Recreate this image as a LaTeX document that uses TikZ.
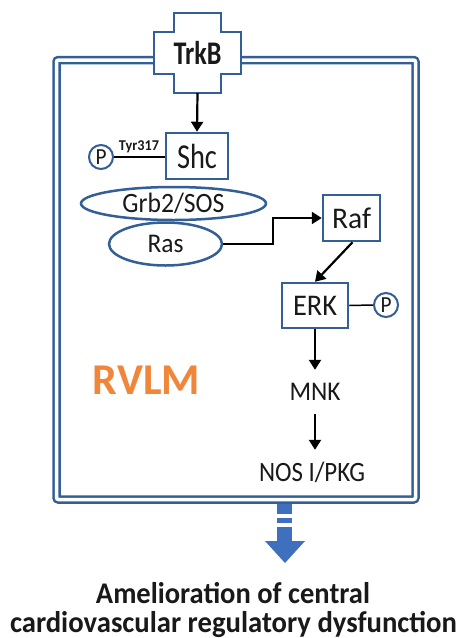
\documentclass[tikz,border=0pt]{standalone}
\usepackage{fontspec}
\usepackage{graphicx}
\setmainfont{Carlito}
\usetikzlibrary{arrows.meta,shapes.geometric}
\definecolor{frameblue}{RGB}{52,94,150}
\definecolor{arrowblue}{RGB}{62,112,190}
\definecolor{rvlmorange}{RGB}{240,134,58}
\definecolor{txt}{RGB}{25,25,25}
\newcommand{\fitw}[3]{\resizebox{#1}{\height}{\fontsize{#2}{#2}\selectfont #3}}
\begin{document}
\begin{tikzpicture}[x=1pt,y=-1pt,
  box/.style={draw=frameblue, line width=2.5pt, fill=white, inner sep=0pt, text=txt},
  oval/.style={ellipse, draw=frameblue, line width=2.5pt, fill=white, inner sep=0pt, text=txt},
  arr/.style={-{Triangle[width=12pt,length=10pt]}, line width=2.2pt, black},
  pcirc/.style={circle, draw=frameblue, line width=2pt, fill=white, inner sep=0pt, minimum size=24pt, text=txt},
  plain/.style={inner sep=0pt, text=txt, minimum height=44pt}]
\useasboundingbox (0,0) rectangle (463,638);
\fill[white] (0,0) rectangle (463,638);
% frame
\draw[frameblue, line width=2.5pt, double=white, double distance=3.5pt, rounded corners=2pt] (56.5,60) rectangle (415.5,499.5);
% TrkB cross
\draw[frameblue, line width=2.5pt, fill=white] (174,13) -- (221,13) -- (221,32) -- (241,32) -- (241,74) -- (221,74) -- (221,93) -- (174,93) -- (174,74) -- (154,74) -- (154,32) -- (174,32) -- cycle;
\node[text=txt, inner sep=0pt] (trkb) at (197.5,53) {\fitw{48pt}{33}{\bfseries TrkB}};
\coordinate (trkbbot) at (197.5,93);
% Shc
\node[box, minimum width=62pt, minimum height=46pt] (shc) at (197,156) {\fitw{40pt}{35}{Shc}};
\draw[arr] (trkbbot) -- (shc.north);
\node[pcirc] (p1) at (101,157) {\fitw{11pt}{23}{P}};
\draw[line width=1.5pt, black] (p1.east) -- (p1.east -| shc.west);
\node[text=txt, inner sep=0pt] (tyr) at (139,147) {\fitw{40pt}{15}{\bfseries Tyr317}};
% Grb2/SOS and Ras
\node[oval, minimum width=185pt, minimum height=33pt] (grb) at (173.5,203.5) {\fitw{102pt}{28}{Grb2/SOS}};
\node[oval, minimum width=113pt, minimum height=43pt] (ras) at (165.5,244) {\fitw{36pt}{27}{Ras}};
% Raf, ERK
\node[box, minimum width=57pt, minimum height=46pt] (raf) at (351.5,218) {\fitw{39pt}{30}{Raf}};
\node[box, minimum width=66pt, minimum height=45pt] (erk) at (315,305.5) {\fitw{44pt}{30}{ERK}};
\draw[arr] (ras.east) -- ++(50,0) |- (raf.west);
\draw[arr] ([xshift=1pt]raf.south) -- (erk.north);
\node[pcirc] (p2) at (386,305) {\fitw{11pt}{23}{P}};
\draw[line width=1.5pt, black] (erk.east) -- (p2.west);
% MNK, NOS
\node[plain] (mnk) at (315,392) {\fitw{51pt}{27}{MNK}};
\node[plain] (nos) at (312,472) {\fitw{106pt}{28}{NOS I/PKG}};
\draw[arr] (erk.south) -- (mnk.north);
\draw[arr] (mnk.south) -- (mnk.south |- nos.north);
% RVLM
\node[text=rvlmorange, inner sep=0pt] (rvlm) at (146.5,380) {\fitw{107pt}{44}{\bfseries RVLM}};
% striped block arrow
\fill[arrowblue] (277,504) rectangle (292,514);
\fill[arrowblue] (277,518) rectangle (292,523);
\fill[arrowblue] (277,527) rectangle (292,542);
\fill[arrowblue] (265,541) -- (305,541) -- (285,563) -- cycle;
% outcome text
\node[anchor=base, text=txt, inner sep=0pt] (out1) at (233,603) {\fitw{274pt}{30}{\bfseries Amelioration of central}};
\node[anchor=base, text=txt, inner sep=0pt] (out2) at (233.5,632) {\fitw{447pt}{30}{\bfseries cardiovascular regulatory dysfunction}};
\end{tikzpicture}
\end{document}
